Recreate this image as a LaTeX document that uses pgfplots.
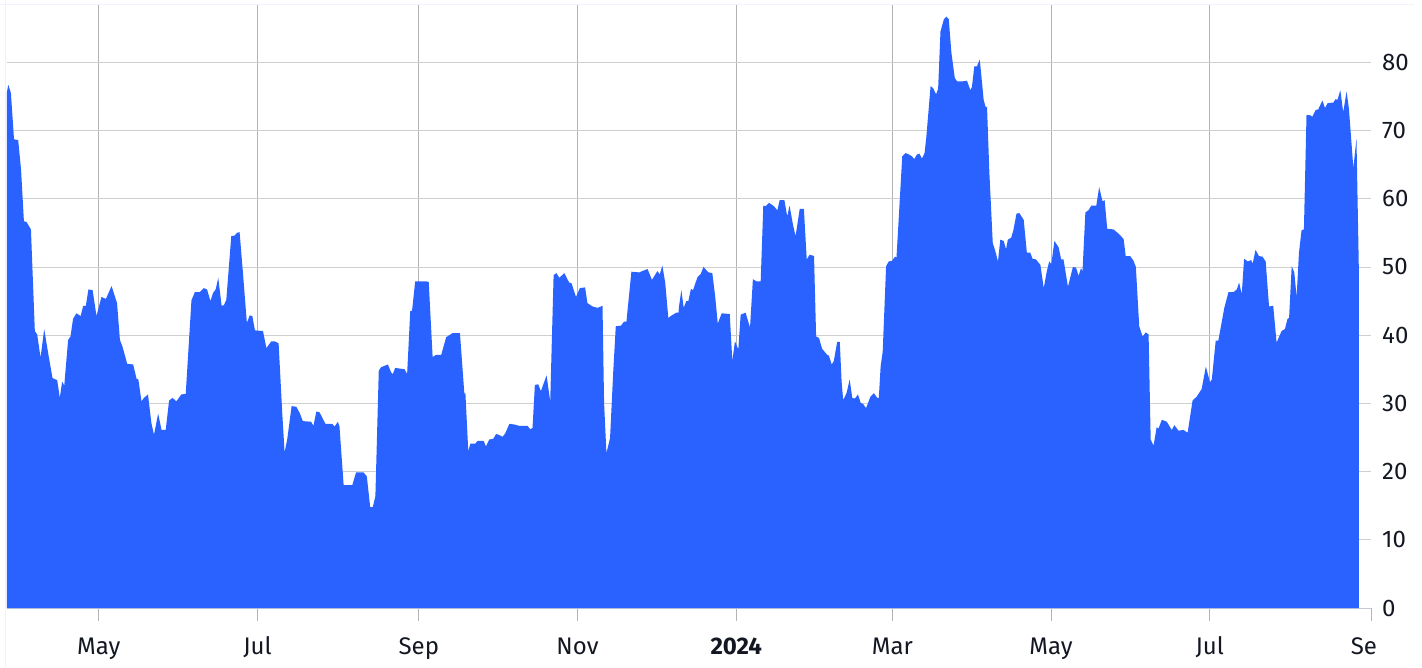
\documentclass[border=0pt]{standalone}
\usepackage{fontspec}
\setmainfont{Fira Sans}
\usepackage{pgfplots}
\pgfplotsset{compat=1.18}

\definecolor{tvblue}{HTML}{2962FF}
\definecolor{tvtext}{HTML}{131722}
\definecolor{hgrid}{HTML}{CFCFCF}
\definecolor{vgrid}{HTML}{B4B4B4}
\definecolor{frame}{HTML}{F0F3FA}
\definecolor{baseline}{HTML}{C5CAD8}

\pgfplotstableread{
day val
-35.4 75.5
-34.8 76.7
-33.8 75.5
-32.6 68.7
-31.0 68.6
-29.9 64.3
-28.8 56.7
-27.8 56.6
-26.1 55.5
-24.6 40.6
-23.7 40.1
-22.4 36.7
-21.0 40.9
-19.5 37.4
-17.8 33.7
-16.0 33.4
-15.0 30.8
-14.1 33.2
-13.3 32.6
-11.8 39.3
-10.9 39.8
-9.9 42.4
-8.6 43.2
-7.0 42.8
-6.0 44.3
-5.0 44.3
-4.0 46.7
-2.4 46.6
-0.9 42.8
1.0 45.6
2.7 45.3
4.9 47.2
7.0 44.7
8.1 39.3
9.1 38.3
10.9 35.8
13.2 35.7
14.5 33.6
15.2 33.5
16.4 30.3
17.3 30.8
18.9 31.3
20.2 27.1
21.2 25.4
22.8 28.5
24.1 26.1
25.7 26.1
27.0 30.4
28.3 30.8
29.8 30.3
31.7 31.3
33.4 31.4
35.6 45.1
36.9 46.3
38.8 46.3
40.3 46.9
41.6 46.7
42.9 45.0
43.9 46.2
44.9 46.7
45.9 48.4
47.2 44.3
48.1 44.4
49.0 45.2
50.9 54.5
52.2 54.6
53.1 55.0
54.1 55.1
55.4 49.1
56.9 41.8
58.0 42.9
59.0 42.8
60.0 40.7
63.1 40.6
64.4 38.1
66.3 39.1
67.6 39.1
69.1 38.8
70.5 28.6
71.4 22.8
72.4 24.7
74.1 29.6
75.9 29.5
77.2 28.6
78.4 27.4
81.6 27.3
82.5 26.7
83.6 28.8
84.8 28.7
87.1 27.0
89.7 27.0
90.6 26.6
91.9 27.3
92.5 26.6
94.1 18.0
97.4 18.0
98.9 19.9
101.7 19.9
103.0 19.3
104.3 14.8
105.3 14.8
106.3 16.4
107.6 34.8
108.5 35.3
111.1 35.7
112.4 34.5
113.0 34.3
113.9 35.2
117.5 35.0
118.5 34.3
119.7 43.5
120.4 43.6
121.6 47.9
123.2 47.9
125.5 47.9
126.8 47.8
128.3 36.8
129.6 37.1
131.6 37.1
133.5 39.7
136.0 40.3
138.8 40.3
140.5 31.4
140.9 31.5
142.0 23.0
142.8 24.1
144.7 24.1
145.6 24.5
147.9 24.5
148.8 23.7
150.1 24.7
151.6 24.8
152.7 25.5
153.7 25.4
155.2 25.1
156.2 25.6
157.8 27.0
159.7 26.9
161.6 26.7
164.8 26.7
165.8 26.2
166.7 26.4
167.6 32.7
168.9 32.8
169.9 31.8
172.1 34.1
173.5 30.3
174.8 48.8
175.9 49.1
177.0 48.4
178.9 49.1
180.8 47.7
181.7 47.6
183.4 45.6
184.9 46.9
186.9 47.0
187.8 44.7
189.8 44.2
191.7 44.0
193.6 44.3
194.2 30.1
195.1 22.7
196.5 24.9
197.7 34.5
198.7 41.3
200.7 41.4
201.9 42.0
202.8 42.0
204.7 49.3
207.7 49.2
210.9 49.7
212.6 48.1
214.7 49.4
215.6 48.9
216.6 50.2
217.7 47.7
218.9 42.5
219.8 42.8
222.0 43.3
222.8 43.3
223.0 44.2
223.9 46.6
224.8 44.0
225.8 45.0
226.6 45.0
227.6 46.8
228.4 46.6
230.1 48.5
231.4 49.0
232.4 50.0
234.3 49.2
235.8 49.1
236.9 45.7
237.9 41.7
239.4 43.2
242.5 43.1
243.5 36.2
244.5 39.1
245.8 37.9
246.7 43.0
248.6 43.3
250.3 41.1
251.4 48.2
252.7 47.9
254.4 47.9
255.4 59.0
256.3 58.9
257.6 59.4
259.5 58.9
260.8 58.3
261.7 59.8
263.5 59.8
264.6 57.4
265.5 59.0
266.8 56.2
267.8 54.5
269.4 58.5
271.0 58.5
272.1 51.1
273.2 51.8
274.9 51.6
275.7 39.8
276.8 39.6
278.0 38.0
280.0 37.1
280.6 37.0
281.7 35.7
282.5 36.2
283.8 39.0
284.8 39.0
285.5 33.2
286.1 30.5
287.4 31.5
288.6 33.5
289.6 30.8
290.6 30.7
291.8 31.3
292.8 30.1
293.8 29.9
294.9 29.3
296.6 31.0
297.9 31.5
299.2 30.8
299.8 30.8
300.5 35.4
301.3 37.6
302.6 50.1
303.6 50.8
304.9 50.9
306.0 51.5
306.6 51.4
307.5 57.4
308.8 66.2
310.1 66.7
311.3 66.5
312.6 66.2
313.4 65.8
314.5 66.5
315.4 66.6
316.4 65.9
317.4 66.7
318.1 69.2
319.7 76.5
320.7 76.2
321.8 75.3
322.6 76.1
323.5 84.5
324.8 86.3
325.8 86.7
326.7 86.3
327.7 81.4
329.0 77.7
329.9 77.2
331.8 77.2
333.7 77.3
335.0 75.9
335.6 76.4
336.5 79.4
337.5 79.4
338.6 80.4
339.1 78.5
340.1 74.5
340.8 73.5
341.4 73.4
342.3 63.8
343.6 53.5
344.6 52.3
345.6 50.8
346.5 54.0
347.8 53.8
348.7 52.6
349.4 54.0
350.7 54.3
351.6 55.5
352.7 57.8
353.8 57.9
355.5 56.9
356.7 52.1
358.0 52.1
358.9 51.2
360.2 51.1
361.9 50.3
363.2 46.9
364.4 49.4
365.3 50.8
366.1 50.4
367.3 53.8
368.9 52.9
369.9 51.1
370.8 51.1
372.5 47.1
374.4 50.0
375.6 49.9
376.6 48.7
377.5 49.8
378.1 49.4
379.2 58.0
380.4 58.3
381.5 59.0
383.4 59.0
384.5 61.7
385.8 59.6
386.6 59.8
387.6 55.6
390.0 55.5
391.9 54.9
393.9 54.1
394.7 51.6
396.4 51.6
397.7 50.9
398.6 50.0
399.9 41.3
401.2 39.8
402.4 40.4
403.5 40.1
404.3 24.7
405.4 23.8
406.6 26.5
407.3 26.3
408.6 27.6
410.5 27.3
412.4 26.1
413.4 26.8
415.0 26.0
416.9 26.1
418.5 25.7
420.4 30.4
422.0 31.0
423.9 32.1
425.5 35.4
427.1 33.1
427.8 33.5
429.3 39.2
430.3 39.2
432.6 44.0
434.2 46.3
436.1 46.3
437.4 46.7
438.3 47.7
439.3 46.0
440.2 51.2
441.6 50.8
442.9 51.0
443.5 50.5
444.6 52.5
445.9 51.6
447.3 51.5
448.5 50.8
449.8 44.2
451.4 44.3
452.7 38.9
454.6 40.6
455.9 40.9
456.9 42.4
457.5 42.5
458.5 50.1
459.5 49.2
460.4 45.6
461.3 52.1
462.3 55.4
463.2 55.5
464.2 72.3
465.9 72.2
466.4 72.0
467.7 73.0
468.7 73.1
470.3 74.4
471.3 73.3
472.3 74.0
474.5 74.1
475.4 74.6
476.1 74.5
477.2 75.9
478.3 72.7
479.6 75.7
480.5 73.2
482.2 64.5
483.4 68.8
484.3 49.9
}\series

\begin{document}
\begin{tikzpicture}
\begin{axis}[
  scale only axis,
  width=1364pt, height=603pt,
  xmin=-35.3, xmax=489,
  ymin=0, ymax=88.4,
  axis x line*=bottom,
  axis y line*=right,
  x axis line style={color=baseline, -},
  y axis line style={draw=none},
  xtick={0,61,123,184,245,305,366,427},
  xticklabels={May,Jul,Sep,Nov,\textbf{2024},Mar,May,Jul},
  extra x ticks={489},
  extra x tick labels={Se\phantom{p}},
  extra x tick style={grid=none},
  ytick={0,10,...,80},
  grid=major,
  x grid style={color=vgrid, line width=0.8pt},
  y grid style={color=hgrid, line width=0.8pt},
  tick align=outside,
  major tick length=13pt,
  x tick style={color=vgrid, line width=0.8pt},
  y tick style={draw=none},
  /pgf/number format/assume math mode=true,
  tick label style={font=\fontsize{24}{28}\selectfont, text=tvtext},
  xticklabel style={anchor=base, yshift=-33pt},
  yticklabel style={anchor=west, inner sep=0pt, xshift=-2pt},
]
\addplot[fill=tvblue, draw=none] table[x=day, y=val] {\series} \closedcycle;
\end{axis}
\draw[frame, line width=1pt] (-7pt,603pt) -- (1407pt,603pt);
\draw[frame, line width=1pt] (-1.5pt,-59pt) -- (-1.5pt,608pt);
\pgfresetboundingbox
\path (-7pt,-59pt) rectangle (1415pt,608pt);
\end{tikzpicture}
\end{document}
